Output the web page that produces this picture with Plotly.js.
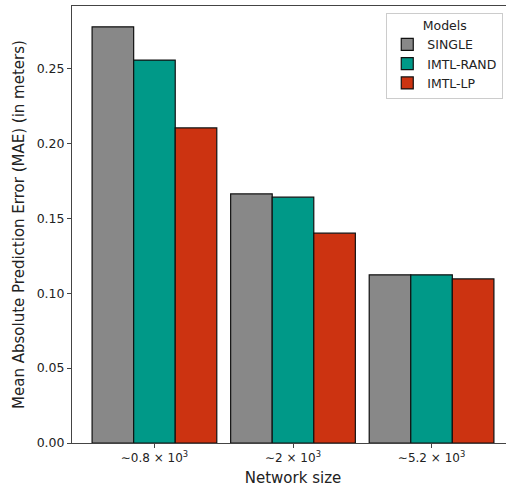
<!DOCTYPE html>
<html>
<head>
<meta charset="utf-8">
<script src="https://cdn.plot.ly/plotly-3.0.1.min.js"></script>
<style>
html,body{margin:0;padding:0;overflow:hidden;background:#fff;width:506px;height:487px;}
#chart{width:514px;height:487px;}
</style>
</head>
<body>
<div id="chart"></div>
<script>
const categories = ["∼0.8 × 10<sup>3</sup>", "∼2 × 10<sup>3</sup>", "∼5.2 × 10<sup>3</sup>"];
const seriesNames = ["SINGLE", "IMTL-RAND", "IMTL-LP"];
const single = [0.2777, 0.1662, 0.1122];
const imtlRand = [0.2555, 0.1640, 0.1122];
const imtlLp = [0.2102, 0.1400, 0.1095];
const colors = ["#888888", "#009988", "#CC3311"];

const values = [single, imtlRand, imtlLp];
const traces = seriesNames.map((name, i) => ({
  type: "bar",
  name: name,
  x: categories,
  y: values[i],
  marker: {color: colors[i], line: {color: "#111111", width: 1.2}},
  hoverinfo: "skip"
}));

const maxVal = Math.max(...single, ...imtlRand, ...imtlLp);

const layout = {
  width: 514,
  height: 487,
  margin: {l: 72, r: 0, t: 6, b: 44},
  paper_bgcolor: "#ffffff",
  plot_bgcolor: "#ffffff",
  font: {family: "DejaVu Sans", color: "#222222", size: 12},
  barmode: "group",
  bargap: 0.1,
  bargroupgap: 0,
  xaxis: {
    type: "category",
    range: [-0.595, 2.595],
    showline: true, mirror: true, linecolor: "#444444", linewidth: 1,
    ticks: "outside", ticklen: 4, tickcolor: "#444444",
    tickfont: {size: 12, family: "DejaVu Sans", color: "#222"},
    showgrid: false, zeroline: false,
    title: {text: "Network size", font: {size: 15, family: "DejaVu Sans", color: "#222"}, standoff: 9}
  },
  yaxis: {
    range: [0, maxVal * 1.05],
    tickvals: [0, 0.05, 0.10, 0.15, 0.20, 0.25],
    tickformat: ".2f",
    showline: true, mirror: true, linecolor: "#444444", linewidth: 1,
    ticks: "outside", ticklen: 4, tickcolor: "#444444",
    tickfont: {size: 12.5, family: "DejaVu Sans", color: "#222"},
    showgrid: false, zeroline: false,
    title: {text: "Mean Absolute Prediction Error (MAE) (in meters)", font: {size: 15, family: "DejaVu Sans", color: "#222"}, standoff: 8}
  },
  legend: {
    x: 0.711, y: 0.985, xanchor: "left", yanchor: "top",
    bgcolor: "rgba(255,255,255,0.9)",
    bordercolor: "#cccccc", borderwidth: 1,
    font: {size: 12.5, family: "DejaVu Sans", color: "#222"},
    title: {text: "Models", side: "top center", font: {size: 12.5, family: "DejaVu Sans", color: "#222"}},
    tracegroupgap: 2
  },
  showlegend: true
};

Plotly.newPlot("chart", traces, layout, {displayModeBar: false, staticPlot: true});
</script>
</body>
</html>
